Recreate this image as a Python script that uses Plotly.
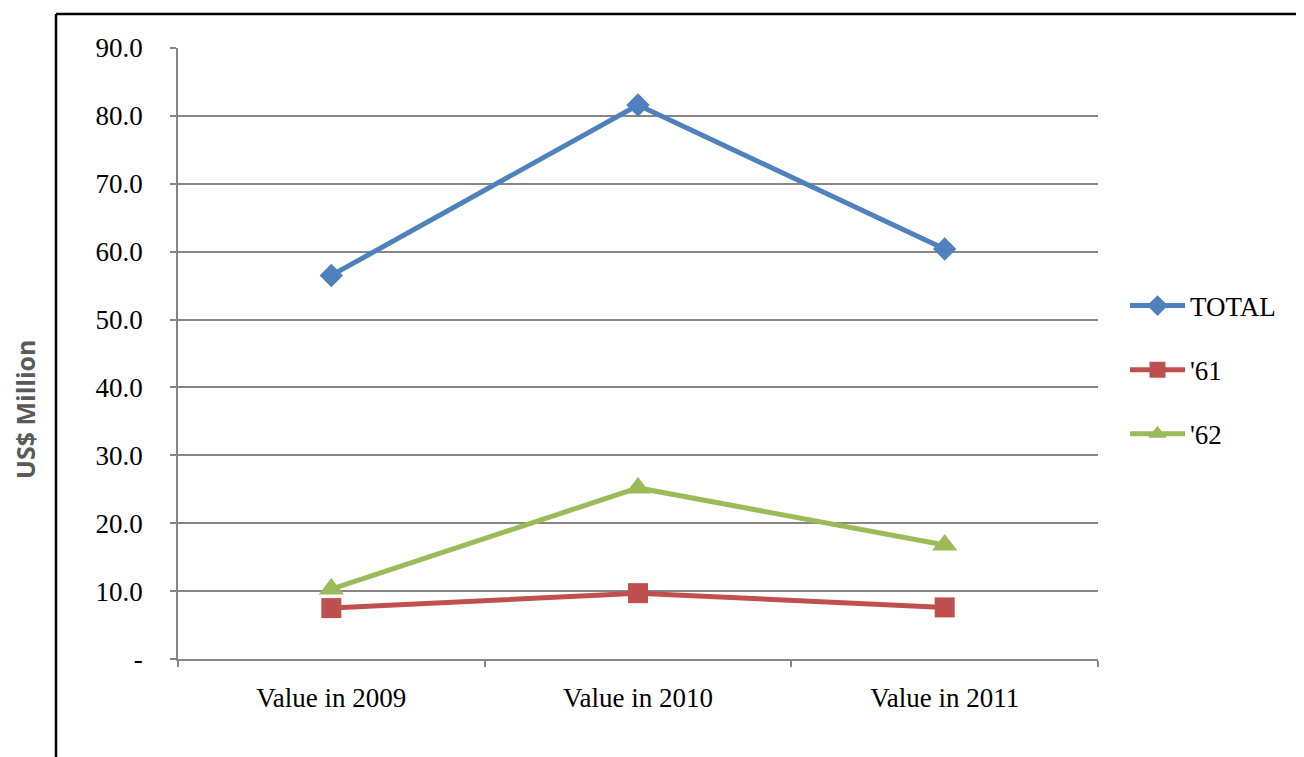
import plotly.graph_objects as go

categories = ["Value in 2009", "Value in 2010", "Value in 2011"]
total = [56.5, 81.6, 60.4]
s61 = [7.5, 9.7, 7.6]
s62 = [10.3, 25.2, 16.8]
tick_values = [0, 10, 20, 30, 40, 50, 60, 70, 80, 90]
tick_labels = ["-", "10.0", "20.0", "30.0", "40.0", "50.0", "60.0", "70.0", "80.0", "90.0"]

OFF = 8  # page body margin
W, H = 1304 - OFF, 757 - OFF
L, R, T, B = 178 - OFF, 1098 - OFF, 48 - OFF, 659 - OFF

fig = go.Figure()
series = [
    ("TOTAL", total, "#4F81BD", "diamond", 18),
    ("'61", s61, "#C0504D", "square", 20),
    ("'62", s62, "#9BBB59", "triangle-up", 22),
]
for name, vals, col, sym, sz in series:
    fig.add_trace(go.Scatter(
        x=categories, y=vals, name=name, mode="lines+markers",
        line=dict(color=col, width=5),
        marker=dict(symbol=sym, size=sz, color=col),
        legendgroup=name,
    ))

def px_x(p):
    return (p - OFF - L) / (R - L)

def px_y(p):
    return (B - (p - OFF)) / (B - T)

fig.update_layout(
    width=W, height=H,
    margin=dict(l=L, r=W - R, t=T, b=H - B),
    paper_bgcolor="white", plot_bgcolor="white",
    font=dict(family="Liberation Serif", size=27, color="black"),
    showlegend=True,
    legend=dict(
        x=px_x(1125), xanchor="left",
        y=px_y(370), yanchor="middle",
        font=dict(family="Liberation Serif", size=27),
        itemwidth=55, tracegroupgap=26,
        bgcolor="rgba(0,0,0,0)",
    ),
    xaxis=dict(
        type="category", range=[-0.5, 2.5],
        showline=True, linecolor="#878787", linewidth=1.5,
        ticks="outside", ticklen=6, tickcolor="#878787", tickwidth=1.5,
        tickson="boundaries", showgrid=False, ticklabelstandoff=14,
        tickfont=dict(family="Liberation Serif", size=27),
    ),
    yaxis=dict(
        range=[0, 90], tickvals=tick_values, ticktext=tick_labels,
        showline=True, linecolor="#878787", linewidth=1.5,
        ticks="outside", ticklen=6, tickcolor="#878787", tickwidth=1.5,
        showgrid=True, gridcolor="#878787", gridwidth=1.6,
        zeroline=False, ticklabelstandoff=22,
        tickfont=dict(family="Liberation Serif", size=27),
    ),
    annotations=[dict(
        text="<b>US$ Million</b>", xref="paper", yref="paper",
        x=px_x(25), y=px_y(410), xanchor="center", yanchor="middle",
        textangle=-90, showarrow=False,
        font=dict(family="Open Sans", size=25, color="#5a5a5a"),
    )],
    shapes=[
        dict(type="line", xref="paper", yref="paper",
             x0=px_x(56), x1=px_x(56), y0=px_y(14), y1=px_y(770),
             line=dict(color="black", width=2.5)),
        dict(type="line", xref="paper", yref="paper",
             x0=px_x(56), x1=px_x(1320), y0=px_y(14), y1=px_y(14),
             line=dict(color="black", width=2.5)),
    ],
)

fig.write_html("out.html")
